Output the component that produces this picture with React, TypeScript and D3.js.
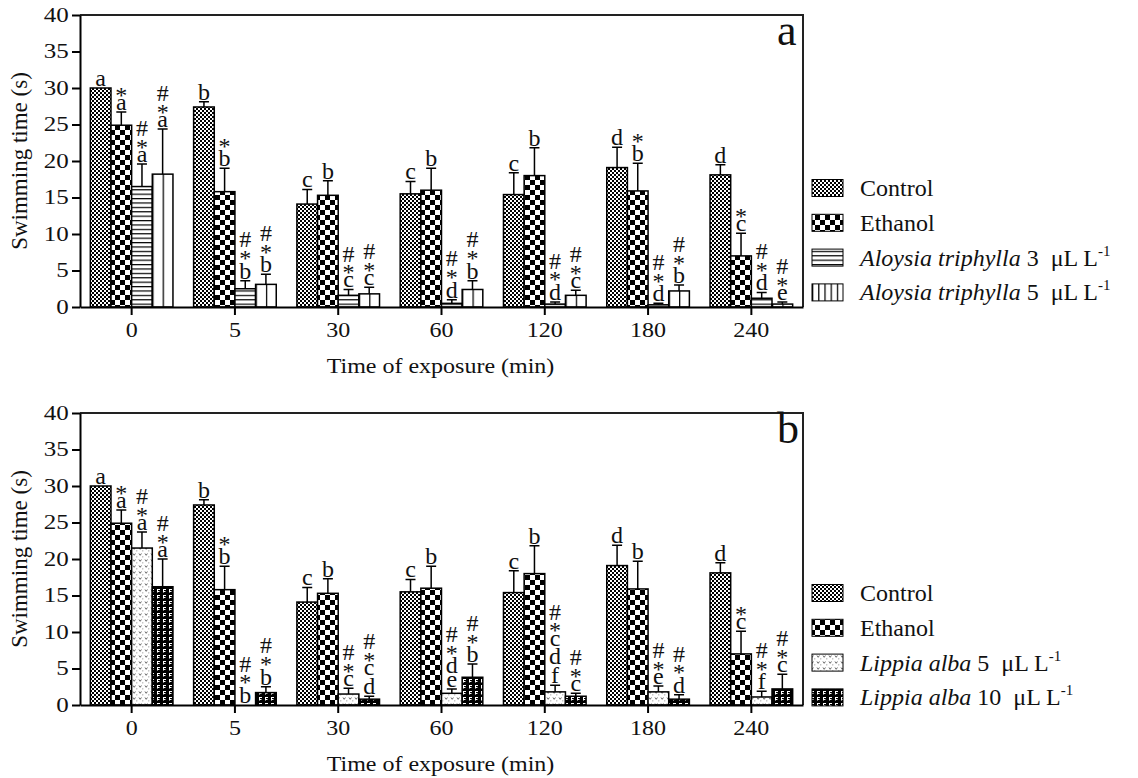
import React, { useRef, useEffect } from "react";
import * as d3 from "d3";

const times = ["0", "5", "30", "60", "120", "180", "240"];
const yTicks = [0, 5, 10, 15, 20, 25, 30, 35, 40];

// same control / ethanol groups in both panels
const controlMean = [30.0, 27.4, 14.1, 15.5, 15.4, 19.1, 18.1];
const controlSe = [0.0, 0.7, 2.0, 1.7, 3.0, 2.8, 1.4];
const controlLabels = ["a", "b", "c", "c", "c", "d", "d"];
const ethanolMean = [24.9, 15.8, 15.3, 16.0, 18.0, 15.9, 7.0];
const ethanolSe = [1.8, 3.2, 2.0, 3.0, 3.8, 3.8, 3.1];
const ethanolLabelsA = ["*a", "*b", "b", "b", "b", "*b", "*c"];
const ethanolLabelsB = ["*a", "*b", "b", "b", "b", "b", "*c"];

// panel a
const aloysia3Mean = [16.5, 2.5, 1.6, 0.5, 0.4, 0.3, 1.2];
const aloysia3Se = [3.1, 1.1, 0.8, 0.5, 0.3, 0.2, 0.8];
const aloysia3Labels = ["#*a", "#*b", "#*c", "#*d", "#*d", "#*d", "#*d"];
const aloysia5Mean = [18.2, 3.1, 1.8, 2.4, 1.6, 2.2, 0.4];
const aloysia5Se = [6.2, 1.4, 0.9, 1.2, 0.7, 0.8, 0.3];
const aloysia5Labels = ["#*a", "#*b", "#*c", "#*b", "#*c", "#*b", "#*e"];

// panel b
const lippia5Mean = [21.5, 0.0, 1.5, 1.6, 1.8, 1.8, 1.1];
const lippia5Se = [2.2, 0.0, 0.8, 0.6, 0.9, 0.8, 0.8];
const lippia5Labels = ["#*a", "#*b", "#*c", "#*de", "#*cdf", "#*e", "#*f"];
const lippia10Mean = [16.2, 1.7, 0.8, 3.8, 1.2, 0.8, 2.2];
const lippia10Se = [3.8, 0.8, 0.4, 1.8, 0.4, 0.6, 2.0];
const lippia10Labels = ["#*a", "#*b", "#*cd", "#*b", "#*c", "#*d", "#*c"];

const FONT = '"Liberation Serif", "Times New Roman", Times, serif';
const left = 80;
const right = 803;
const plotH = 292;

const panels = [
  {
    letter: "a",
    top: 15,
    legendTop: 188,
    series: [
      { key: "c", mean: controlMean, se: controlSe, labels: controlLabels, fill: "url(#pCtrl)", sw: "url(#pCtrl)", name: "Control" },
      { key: "e", mean: ethanolMean, se: ethanolSe, labels: ethanolLabelsA, fill: "url(#pEth)", sw: "url(#pEth)", name: "Ethanol" },
      { key: "s1", mean: aloysia3Mean, se: aloysia3Se, labels: aloysia3Labels, fill: "url(#pHor)", sw: "url(#pHor)", name: "Aloysia triphylla", dose: " 3  \u03bcL L" },
      { key: "s2", mean: aloysia5Mean, se: aloysia5Se, labels: aloysia5Labels, fill: "url(#pVer)", sw: "url(#pVerL)", name: "Aloysia triphylla", dose: " 5  \u03bcL L" },
    ],
  },
  {
    letter: "b",
    top: 413,
    legendTop: 593,
    series: [
      { key: "c", mean: controlMean, se: controlSe, labels: controlLabels, fill: "url(#pCtrl)", sw: "url(#pCtrl)", name: "Control" },
      { key: "e", mean: ethanolMean, se: ethanolSe, labels: ethanolLabelsB, fill: "url(#pEth)", sw: "url(#pEth)", name: "Ethanol" },
      { key: "s1", mean: lippia5Mean, se: lippia5Se, labels: lippia5Labels, fill: "url(#pLight)", sw: "url(#pLight)", name: "Lippia alba", dose: " 5  \u03bcL L" },
      { key: "s2", mean: lippia10Mean, se: lippia10Se, labels: lippia10Labels, fill: "url(#pDark)", sw: "url(#pDark)", name: "Lippia alba", dose: " 10  \u03bcL L" },
    ],
  },
];

// glyph bottom / top above baseline, in em
const glyph = {
  a: [0, 0.46], c: [0, 0.46], e: [0, 0.46],
  b: [0, 0.683], d: [0, 0.683], f: [0, 0.683],
  "*": [0.265, 0.676], "#": [0, 0.676],
};
const LF = 24;
const GAP = 2.5;

const drawPanel = (g, p) => {
  const y = d3.scaleLinear().domain([0, 40]).range([p.top + plotH, p.top]);
  const x0 = d3.scaleBand().domain(times).range([left, right]);
  const x1 = d3
    .scaleBand()
    .domain(p.series.map((s) => s.key))
    .range([0, x0.bandwidth()])
    .paddingOuter(0.5);

  // frame top + right
  g.append("path")
    .attr("d", `M${left},${y(40)}H${right}V${y(0)}`)
    .attr("fill", "none")
    .attr("stroke", "#222")
    .attr("stroke-width", 2);

  p.series.forEach((s) => {
    const sg = g.append("g");
    times.forEach((t, i) => {
      const bx = x0(t) + x1(s.key);
      const cx = bx + x1.bandwidth() / 2;
      const m = s.mean[i];
      const e = s.se[i];
      if (m > 0) {
        sg.append("rect")
          .attr("x", bx)
          .attr("y", y(m))
          .attr("width", x1.bandwidth())
          .attr("height", y(0) - y(m))
          .attr("fill", s.fill)
          .attr("stroke", "#000")
          .attr("stroke-width", 1.5);
      }
      if (e > 0) {
        sg.append("path")
          .attr("d", `M${cx},${y(m)}V${y(m + e)}M${cx - 5},${y(m + e)}H${cx + 5}`)
          .attr("stroke", "#000")
          .attr("stroke-width", 1.5)
          .attr("fill", "none");
      }
      // stacked significance letters, bottom up
      let top = y(m + e) - 2;
      const chars = s.labels[i].split("").reverse();
      chars.forEach((ch) => {
        const [b, tt] = glyph[ch] || [0, 0.46];
        const base = top + b * LF;
        sg.append("text")
          .attr("x", cx)
          .attr("y", base)
          .attr("text-anchor", "middle")
          .attr("font-family", FONT)
          .attr("font-size", LF)
          .attr("fill", "#111")
          .text(ch);
        top = base - tt * LF - GAP;
      });
    });
  });

  // axes
  const ya = g
    .append("g")
    .attr("transform", `translate(${left},0)`)
    .call(d3.axisLeft(y).tickValues(yTicks).tickSize(8).tickSizeOuter(0));
  ya.select(".domain").attr("stroke-width", 2);
  ya.selectAll(".tick line").attr("stroke-width", 2);
  ya.selectAll(".tick text")
    .attr("x", -9)
    .attr("transform", "scale(1.25,1)")
    .attr("font-family", FONT)
    .attr("font-size", 20)
    .attr("fill", "#111");

  const xa = g
    .append("g")
    .attr("transform", `translate(0,${y(0)})`)
    .call(d3.axisBottom(x0).tickSize(8).tickSizeOuter(0).tickPadding(8));
  xa.select(".domain").attr("stroke-width", 2);
  xa.selectAll(".tick line").attr("stroke-width", 2);
  xa.selectAll(".tick text")
    .attr("transform", "scale(1.2,1)")
    .attr("font-family", FONT)
    .attr("font-size", 20)
    .attr("fill", "#111");

  g.append("text")
    .attr("transform", `translate(${(left + right) / 2 - 1},${y(0) + 66}) scale(1.2,1)`)
    .attr("text-anchor", "middle")
    .attr("font-family", FONT)
    .attr("font-size", 20)
    .attr("fill", "#111")
    .text("Time of exposure (min)");

  g.append("text")
    .attr("transform", `translate(27,${(y(0) + y(40)) / 2}) rotate(-90)`)
    .attr("text-anchor", "middle")
    .attr("font-family", FONT)
    .attr("font-size", 23)
    .attr("fill", "#111")
    .text("Swimming time (s)");

  g.append("text")
    .attr("x", 777)
    .attr("y", y(40) + 30)
    .attr("font-family", FONT)
    .attr("font-size", 44)
    .attr("fill", "#111")
    .text(p.letter);

  // legend
  p.series.forEach((s, i) => {
    const cy = p.legendTop + i * 34.8;
    g.append("rect")
      .attr("x", 812)
      .attr("y", cy - 8.5)
      .attr("width", 31)
      .attr("height", 17)
      .attr("fill", s.sw)
      .attr("stroke", "#000")
      .attr("stroke-width", 1);
    const tx = g
      .append("text")
      .attr("x", 860)
      .attr("y", cy + 8)
      .attr("font-family", FONT)
      .attr("font-size", 24)
      .attr("fill", "#111")
      .style("white-space", "pre");
    if (s.dose) {
      tx.append("tspan").attr("font-style", "italic").text(s.name);
      tx.append("tspan").text(s.dose);
      tx.append("tspan").attr("font-size", 15).attr("dy", -10).text("-1");
    } else {
      tx.text(s.name);
    }
  });
};

const App = () => {
  const svgRef = useRef(null);

  useEffect(() => {
    const root = d3.select(svgRef.current).append("g");
    panels.forEach((p) => drawPanel(root.append("g"), p));
    return () => {
      root.remove();
    };
  }, []);

  return (
    <svg
      ref={svgRef}
      width={1138}
      height={778}
      style={{ position: "absolute", left: 0, top: 0, background: "#fff" }}
    >
      <defs>
        <pattern id="pCtrl" width="4" height="4" patternUnits="userSpaceOnUse">
          <rect width="4" height="4" fill="#fff" />
          <rect width="2" height="2" fill="#000" />
          <rect x="2" y="2" width="2" height="2" fill="#000" />
        </pattern>
        <pattern id="pEth" width="10" height="10" patternUnits="userSpaceOnUse">
          <rect width="10" height="10" fill="#fff" />
          <rect width="5" height="5" fill="#000" />
          <rect x="5" y="5" width="5" height="5" fill="#000" />
        </pattern>
        <pattern id="pHor" width="6" height="4.4" patternUnits="userSpaceOnUse">
          <rect width="6" height="4.4" fill="#fff" />
          <line x1="0" x2="6" y1="0.6" y2="0.6" stroke="#000" strokeWidth="1.2" />
        </pattern>
        <pattern id="pVer" width="0.5" height="1" patternUnits="objectBoundingBox" patternContentUnits="objectBoundingBox">
          <rect width="0.5" height="1" fill="#fff" />
          <rect x="0" width="0.06" height="1" fill="#000" />
        </pattern>
        <pattern id="pVerL" width="0.2" height="1" patternUnits="objectBoundingBox" patternContentUnits="objectBoundingBox">
          <rect width="0.2" height="1" fill="#fff" />
          <rect x="0" width="0.04" height="1" fill="#000" />
        </pattern>
        <pattern id="pLight" width="6" height="6" patternUnits="userSpaceOnUse">
          <rect width="6" height="6" fill="#fff" />
          <path d="M1,1.5 l1.2,1.8 l1.2,-1.8" fill="none" stroke="#555" strokeWidth="0.9" />
          <circle cx="4.8" cy="4.8" r="0.6" fill="#888" />
        </pattern>
        <pattern id="pDark" width="6" height="6" patternUnits="userSpaceOnUse">
          <rect width="6" height="6" fill="#000" />
          <rect x="1" y="1" width="3" height="1" fill="#fff" />
          <rect x="1" y="1" width="1" height="3.5" fill="#fff" />
          <rect x="2" y="3" width="1.5" height="1" fill="#fff" />
        </pattern>
      </defs>
    </svg>
  );
};

export default App;
